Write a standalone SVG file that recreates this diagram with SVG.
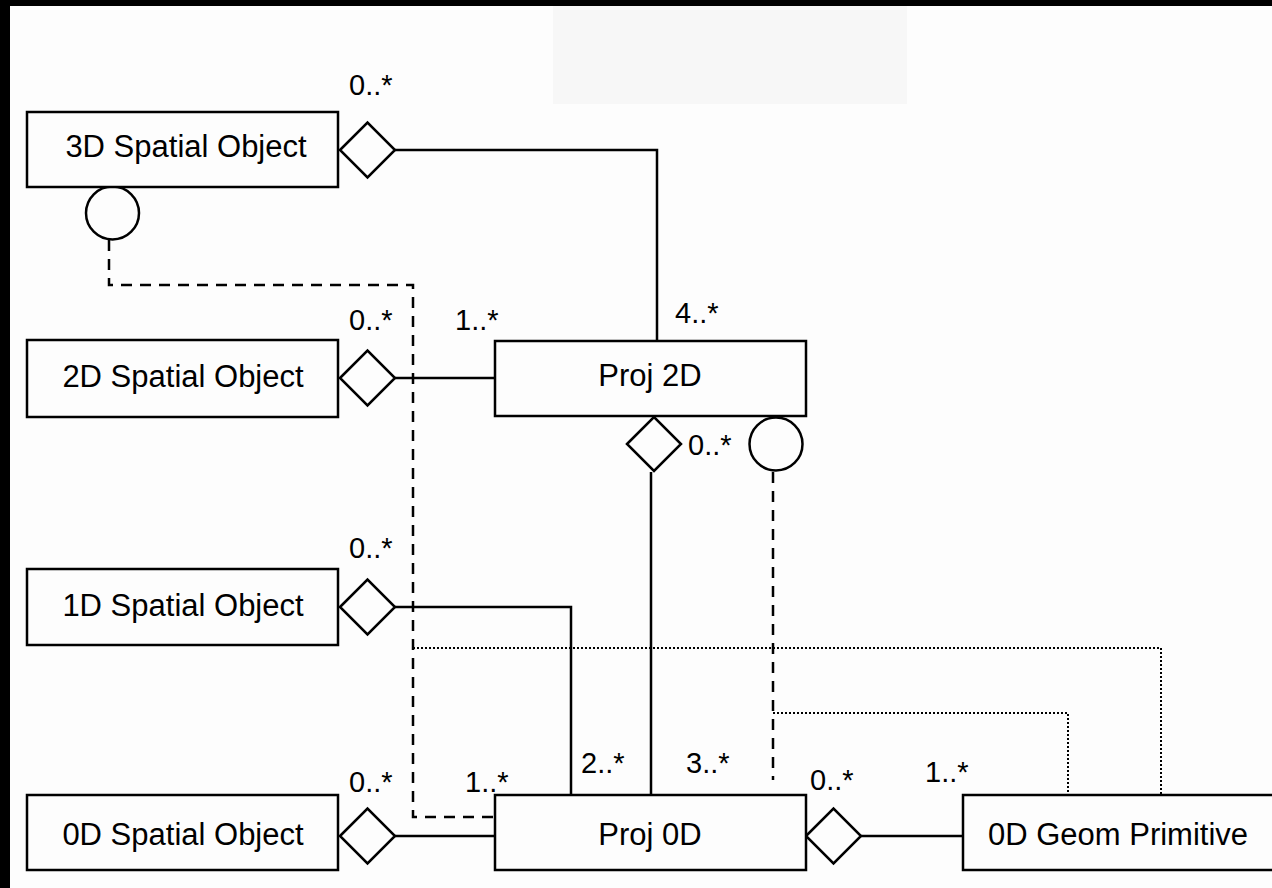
<svg xmlns="http://www.w3.org/2000/svg" width="1272" height="888" viewBox="0 0 1272 888">
<style>
.box{fill:#fdfdfd;stroke:#000;stroke-width:2.5}
.t{font-family:"Liberation Sans",Arial,sans-serif;font-size:31px;fill:#000;text-anchor:middle}
.m{font-family:"Liberation Sans",Arial,sans-serif;font-size:29px;fill:#000}
.solid{fill:none;stroke:#000;stroke-width:2.5}
.dash{fill:none;stroke:#000;stroke-width:2.5;stroke-dasharray:11 8}
.dot{fill:none;stroke:#000;stroke-width:2;stroke-dasharray:2 2}
.dia{fill:#fdfdfd;stroke:#000;stroke-width:2.5}
</style>
<rect x="0" y="0" width="1272" height="888" fill="#fdfdfd"/>
<rect x="553" y="6" width="354" height="98" fill="#f7f7f7"/>
<rect x="0" y="0" width="1272" height="6" fill="#000"/>
<rect x="0" y="0" width="10" height="888" fill="#000"/>
<g id="connectors">
<polyline class="solid" points="395,150 657,150 657,341"/>
<line class="solid" x1="395" y1="378" x2="495" y2="378"/>
<polyline class="solid" points="395,607 571,607 571,795"/>
<line class="solid" x1="395" y1="836" x2="495" y2="836"/>
<line class="solid" x1="651" y1="472" x2="651" y2="795"/>
<line class="solid" x1="861" y1="836" x2="963" y2="836"/>
<polyline class="dash" points="109,240 109,285 413,285 413,817 495,817"/>
<line class="dash" x1="773" y1="472" x2="773" y2="780"/>
<polyline class="dot" points="413,648 1161,648 1161,795"/>
<polyline class="dot" points="773,713 1068,713 1068,795"/>
<polygon class="dia" points="340,150 367.5,122.5 395,150 367.5,177.5"/>
<polygon class="dia" points="340,378 367.5,350.5 395,378 367.5,405.5"/>
<polygon class="dia" points="340,607 367.5,579.5 395,607 367.5,634.5"/>
<polygon class="dia" points="340,836 367.5,808.5 395,836 367.5,863.5"/>
<polygon class="dia" points="627,444 654,417 681,444 654,471"/>
<polygon class="dia" points="806,836 833.5,808.5 861,836 833.5,863.5"/>
<circle class="dia" cx="112.5" cy="213" r="26.5"/>
<circle class="dia" cx="776" cy="444" r="26.5"/>
<text class="m" x="349" y="95">0..*</text>
<text class="m" x="349" y="330">0..*</text>
<text class="m" x="455" y="330">1..*</text>
<text class="m" x="675" y="323">4..*</text>
<text class="m" x="688" y="455">0..*</text>
<text class="m" x="349" y="558">0..*</text>
<text class="m" x="581" y="773">2..*</text>
<text class="m" x="686" y="773">3..*</text>
<text class="m" x="349" y="792">0..*</text>
<text class="m" x="465" y="792">1..*</text>
<text class="m" x="810" y="790">0..*</text>
<text class="m" x="925" y="782">1..*</text>
</g>
<g id="n3d"><rect class="box" x="27" y="112" width="311" height="75"/><text class="t" x="186" y="157">3D Spatial Object</text></g>
<g id="n2d"><rect class="box" x="27" y="340" width="311" height="77"/><text class="t" x="183" y="387">2D Spatial Object</text></g>
<g id="n1d"><rect class="box" x="27" y="569" width="311" height="76"/><text class="t" x="183" y="616">1D Spatial Object</text></g>
<g id="n0d"><rect class="box" x="27" y="795" width="311" height="75"/><text class="t" x="183" y="845">0D Spatial Object</text></g>
<g id="proj2d"><rect class="box" x="495" y="341" width="311" height="75"/><text class="t" x="650" y="386">Proj 2D</text></g>
<g id="proj0d"><rect class="box" x="495" y="795" width="311" height="75"/><text class="t" x="650" y="845">Proj 0D</text></g>
<g id="geom"><rect class="box" x="963" y="795" width="330" height="75"/><text class="t" x="1118" y="845">0D Geom Primitive</text></g>
</svg>
